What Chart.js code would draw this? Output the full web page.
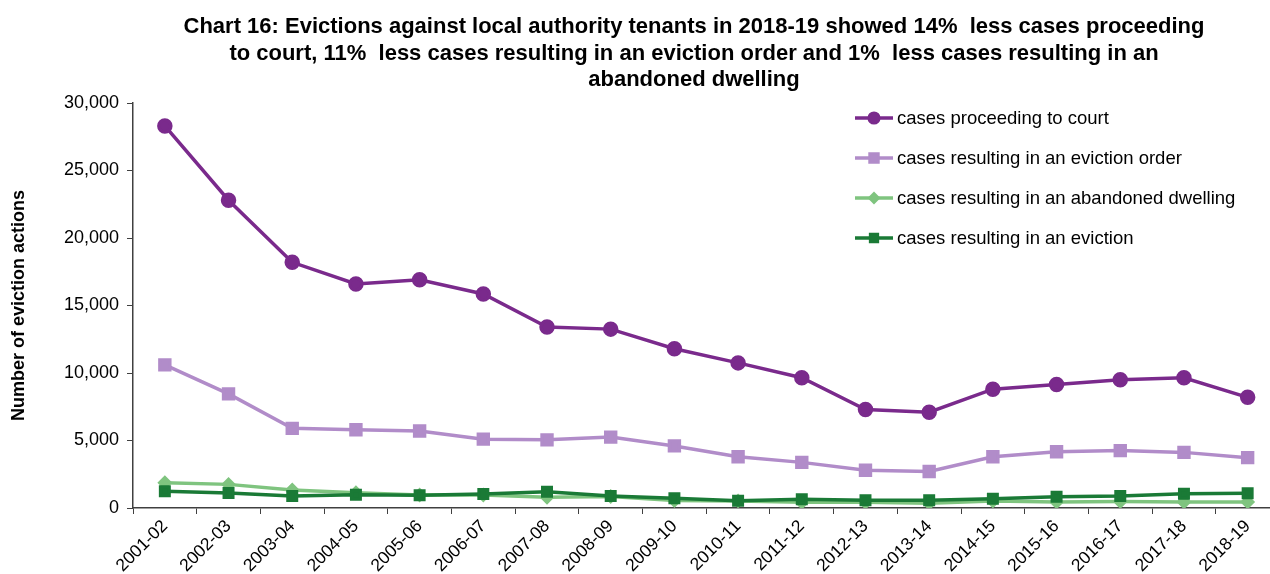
<!DOCTYPE html>
<html>
<head>
<meta charset="utf-8">
<script src="https://cdn.jsdelivr.net/npm/chart.js@4.4.0/dist/chart.umd.min.js"></script>
<style>
  html, body { margin: 0; padding: 0; background: #fff; overflow: hidden; }
  #wrap { width: 1290px; height: 574px; position: relative; }
</style>
</head>
<body>
<div id="wrap"><canvas id="chart" width="1290" height="574"></canvas></div>
<script>
// Dados do gráfico
const years = ['2001-02', '2002-03', '2003-04', '2004-05', '2005-06', '2006-07', '2007-08', '2008-09', '2009-10',
  '2010-11', '2011-12', '2012-13', '2013-14', '2014-15', '2015-16', '2016-17', '2017-18', '2018-19'];
const proceedingToCourt = [28300, 22800, 18200, 16600, 16900, 15850, 13400, 13250, 11800,
  10750, 9650, 7300, 7100, 8800, 9150, 9500, 9650, 8200];
const evictionOrder = [10600, 8450, 5900, 5800, 5700, 5100, 5050, 5250, 4600,
  3800, 3380, 2800, 2700, 3800, 4170, 4250, 4120, 3730];
const abandonedDwelling = [1870, 1750, 1330, 1130, 960, 960, 800, 850, 560,
  520, 420, 420, 360, 520, 450, 480, 450, 450];
const evictions = [1240, 1110, 890, 990, 940, 1040, 1210, 890, 720,
  540, 640, 570, 570, 690, 840, 890, 1060, 1090];
const yTicks = [0, 5000, 10000, 15000, 20000, 25000, 30000];

const titleLines = [
  'Chart 16: Evictions against local authority tenants in 2018-19 showed 14%  less cases proceeding',
  'to court, 11%  less cases resulting in an eviction order and 1%  less cases resulting in an',
  'abandoned dwelling'
];

const FONT = '"Liberation Sans", Arial, sans-serif';

// Título e legenda desenhados à mão (posição dentro da área do gráfico)
const overlayPlugin = {
  id: 'overlay',
  afterDraw(chart) {
    const ctx = chart.ctx;
    ctx.save();
    ctx.fillStyle = '#000';
    ctx.font = 'bold 22px ' + FONT;
    ctx.textAlign = 'center';
    ctx.textBaseline = 'middle';
    titleLines.forEach((line, i) => ctx.fillText(line, 694, 27 + i * 26.5));

    ctx.font = '18.5px ' + FONT;
    ctx.textAlign = 'left';
    chart.data.datasets.forEach((ds, i) => {
      const y = 118 + i * 40;
      ctx.strokeStyle = ds.borderColor;
      ctx.lineWidth = ds.borderWidth;
      ctx.beginPath();
      ctx.moveTo(855, y);
      ctx.lineTo(893, y);
      ctx.stroke();
      Chart.helpers.drawPoint(ctx, {
        pointStyle: ds.pointStyle,
        radius: ds.pointRadius * 0.8,
        borderWidth: 1
      }, 874, y);
      ctx.fillStyle = ds.pointBackgroundColor;
      ctx.fill();
      ctx.fillStyle = '#000';
      ctx.fillText(ds.label, 897, y + 1);
    });
    ctx.restore();
  }
};

const ctx = document.getElementById('chart').getContext('2d');
new Chart(ctx, {
  type: 'line',
  data: {
    labels: years,
    datasets: [
      {
        label: 'cases proceeding to court',
        data: proceedingToCourt,
        borderColor: '#7a2a8c',
        backgroundColor: '#7a2a8c',
        pointBackgroundColor: '#7a2a8c',
        pointBorderColor: '#7a2a8c',
        borderWidth: 3.5,
        pointStyle: 'circle',
        pointRadius: 6,
        order: 0
      },
      {
        label: 'cases resulting in an eviction order',
        data: evictionOrder,
        borderColor: '#b18cc9',
        backgroundColor: '#b18cc9',
        pointBackgroundColor: '#b18cc9',
        pointBorderColor: '#b18cc9',
        borderWidth: 3.5,
        pointStyle: 'rect',
        pointRadius: 7,
        order: 1
      },
      {
        label: 'cases resulting in an abandoned dwelling',
        data: abandonedDwelling,
        borderColor: '#7fc47f',
        backgroundColor: '#7fc47f',
        pointBackgroundColor: '#7fc47f',
        pointBorderColor: '#7fc47f',
        borderWidth: 3.5,
        pointStyle: 'rectRot',
        pointRadius: 5,
        order: 3
      },
      {
        label: 'cases resulting in an eviction',
        data: evictions,
        borderColor: '#1a7a36',
        backgroundColor: '#1a7a36',
        pointBackgroundColor: '#1a7a36',
        pointBorderColor: '#1a7a36',
        borderWidth: 3.5,
        pointStyle: 'rect',
        pointRadius: 6,
        order: 2
      }
    ]
  },
  options: {
    responsive: false,
    animation: false,
    layout: { padding: { top: 103, right: 7, bottom: 0, left: 0 } },
    plugins: {
      legend: { display: false },
      title: { display: false },
      tooltip: { enabled: false }
    },
    elements: { line: { tension: 0 } },
    scales: {
      x: {
        offset: true,
        grid: { offset: true, drawOnChartArea: false, tickLength: 6, color: '#404040' },
        border: { color: '#404040', width: 1.5 },
        ticks: {
          minRotation: 45,
          maxRotation: 45,
          autoSkip: false,
          padding: 2,
          color: '#000',
          font: { family: FONT, size: 17.5 }
        },
        afterFit(scale) { scale.height = 66; }
      },
      y: {
        min: 0,
        max: 30000,
        afterBuildTicks(scale) { scale.ticks = yTicks.map(v => ({ value: v })); },
        grid: { drawOnChartArea: false, tickLength: 6, color: '#404040' },
        border: { color: '#404040', width: 1.5 },
        ticks: {
          padding: 8,
          color: '#000',
          font: { family: FONT, size: 18 },
          callback: v => v.toLocaleString('en-GB')
        },
        title: {
          display: true,
          text: 'Number of eviction actions',
          color: '#000',
          padding: { top: 8, bottom: 0 },
          font: { family: FONT, size: 18, weight: 'bold' }
        },
        afterFit(scale) { scale.width = 133; }
      }
    }
  },
  plugins: [overlayPlugin]
});
</script>
</body>
</html>
